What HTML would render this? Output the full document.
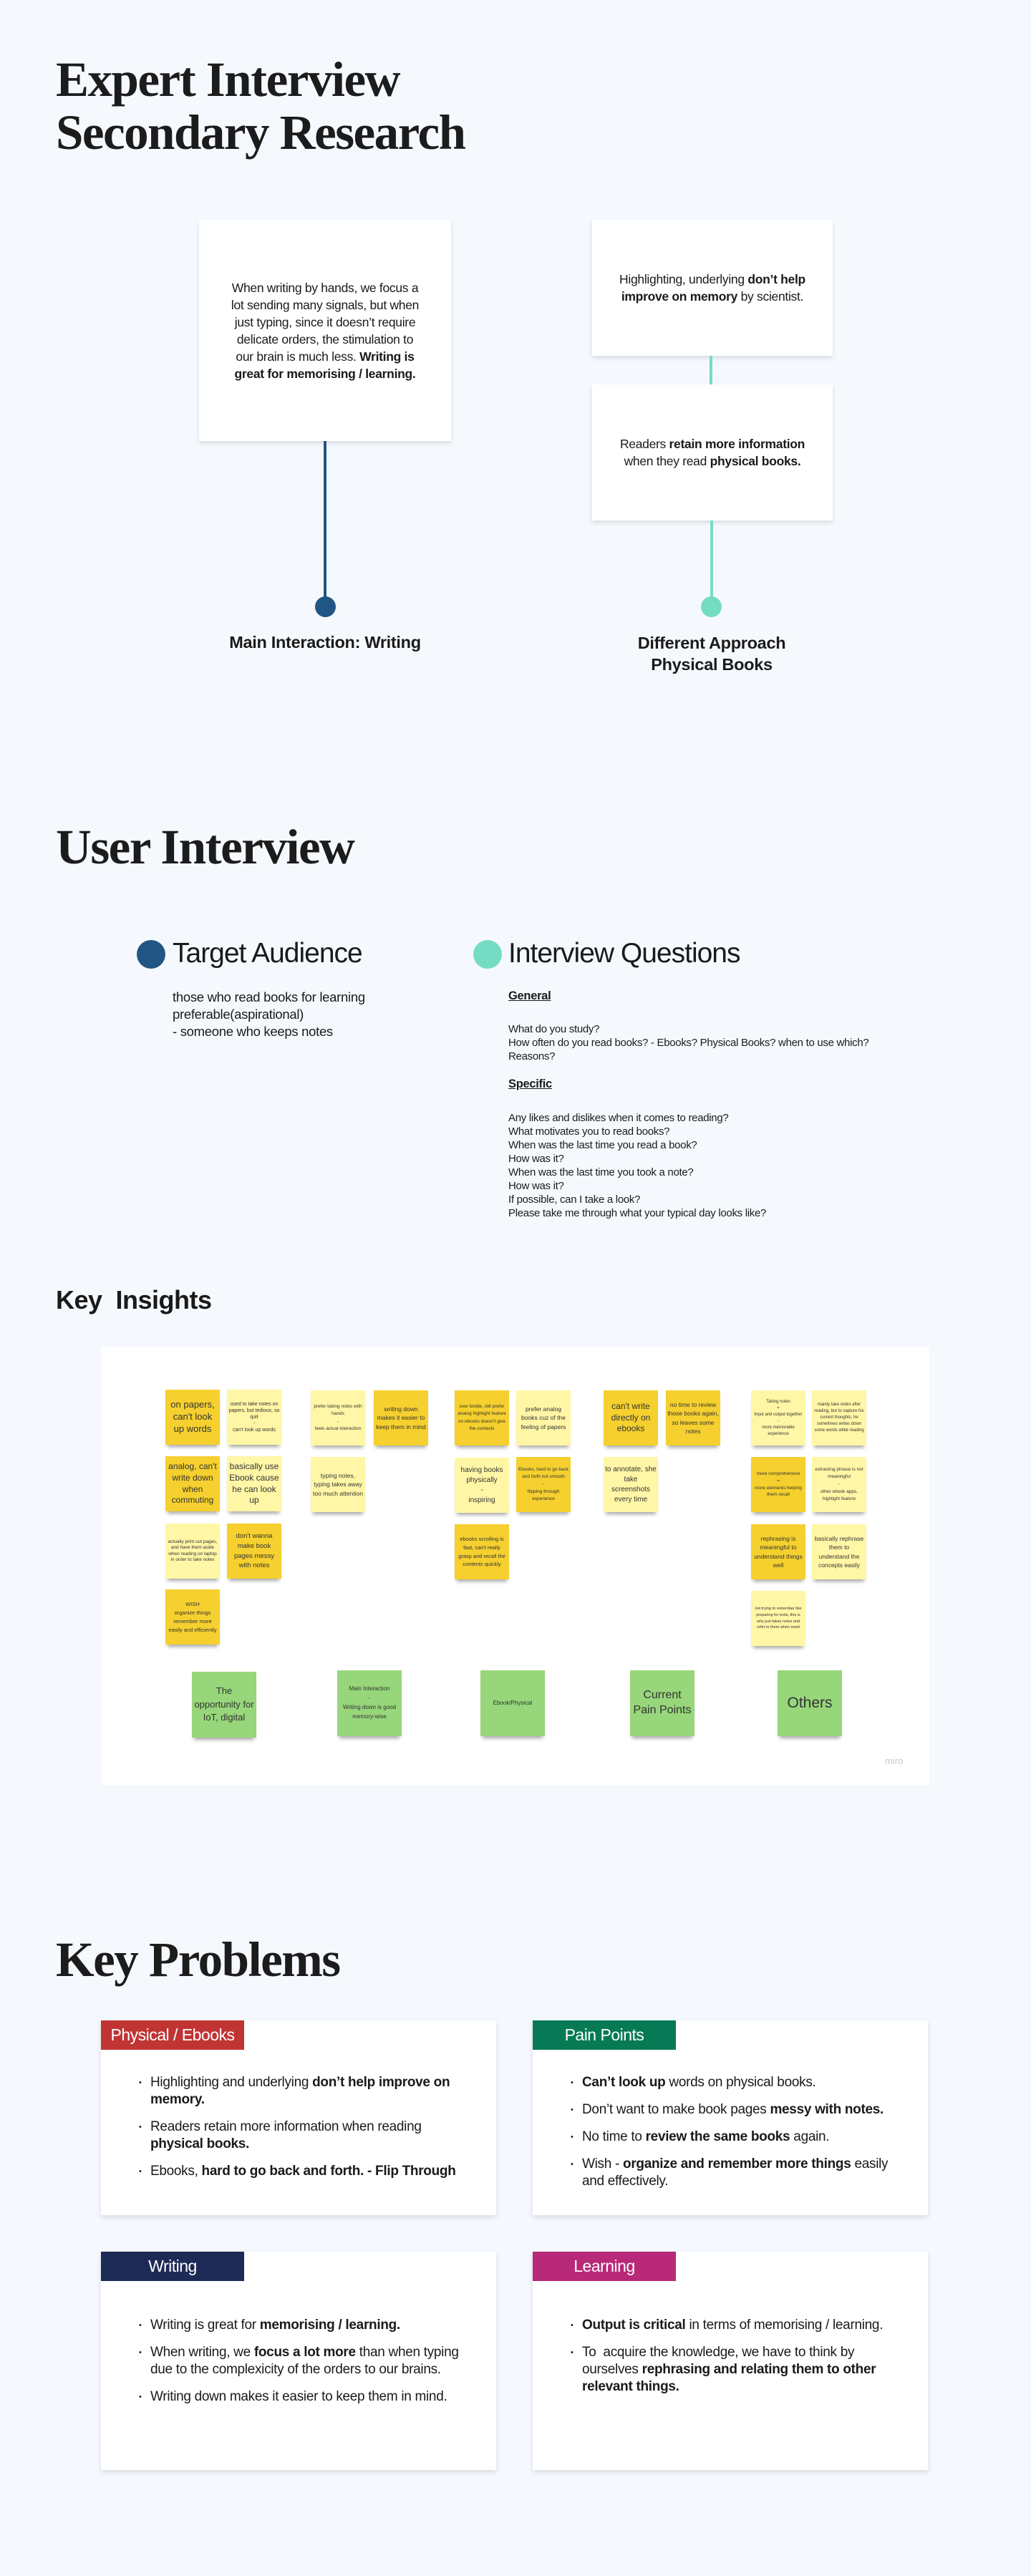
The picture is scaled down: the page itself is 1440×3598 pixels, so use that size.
<!DOCTYPE html>
<html><head><meta charset="utf-8">
<style>
*{margin:0;padding:0;box-sizing:border-box}
body{width:1440px;height:3598px;background:#f5f9fe;position:relative;font-family:"Liberation Sans",sans-serif;color:#1a1a1a;overflow:hidden}
.a{position:absolute}
.h1{font-family:"Liberation Serif",serif;font-weight:bold;font-size:69px;line-height:74px;letter-spacing:-1.5px;color:#1c1c1c;white-space:nowrap}
.card{background:#fff;box-shadow:0 3px 6px rgba(0,0,0,.12);display:flex;align-items:center;justify-content:center;text-align:center;font-size:17.5px;line-height:24px;letter-spacing:-0.3px;white-space:nowrap}
.dot{border-radius:50%}
.lbl{font-weight:bold;font-size:23.5px;line-height:30px;text-align:center;letter-spacing:-0.3px}
.st{position:absolute;width:76px;height:77px;display:flex;align-items:center;justify-content:center;text-align:center;color:#333;box-shadow:0 6px 5px -3px rgba(0,0,0,.35);padding:2px;line-height:1.3}
.D{background:#f5d02e}.L{background:#fff6a6}.G{background:#97d67a;width:90px;height:92px}
.kc{background:#fff;box-shadow:0 3px 7px rgba(0,0,0,.12)}
.tag{position:absolute;left:0;top:0;width:200px;height:41px;color:#fff;font-size:23px;line-height:41px;text-align:center;letter-spacing:-0.5px}
.kc ul{position:absolute;left:69px;top:0;list-style:none;font-size:19px;line-height:24px;letter-spacing:-0.3px;white-space:nowrap}
.kc li{position:relative;margin-bottom:14px}
.kc li:before{content:"•";position:absolute;left:-16px;font-size:11px}
</style></head><body>

<div class="a h1" style="left:78px;top:74px">Expert Interview<br>Secondary Research</div>

<div class="a card" style="left:278px;top:307px;width:352px;height:309px"><div>When writing by hands, we focus a<br>lot sending many signals, but when<br>just typing, since it doesn’t require<br>delicate orders, the stimulation to<br>our brain is much less. <b>Writing is</b><br><b>great for memorising / learning.</b></div></div>
<div class="a card" style="left:827px;top:307px;width:336px;height:190px"><div>Highlighting, underlying <b>don’t help<br>improve on memory</b> by scientist.</div></div>
<div class="a card" style="left:827px;top:537px;width:336px;height:190px"><div>Readers <b>retain more information</b><br>when they read <b>physical books.</b></div></div>
<div class="a" style="left:452px;top:616px;width:4px;height:231px;background:#215584"></div>
<div class="a" style="left:991px;top:497px;width:4px;height:40px;background:#74dcc2"></div>
<div class="a" style="left:992px;top:727px;width:4px;height:120px;background:#74dcc2"></div>
<div class="a dot" style="left:440px;top:833px;width:29px;height:29px;background:#215584"></div>
<div class="a dot" style="left:979px;top:833px;width:29px;height:29px;background:#74dcc2"></div>
<div class="a lbl" style="left:254px;top:882px;width:400px">Main Interaction: Writing</div>
<div class="a lbl" style="left:794px;top:883px;width:400px">Different Approach<br>Physical Books</div>

<div class="a h1" style="left:78px;top:1146px">User Interview</div>
<div class="a dot" style="left:191px;top:1313px;width:40px;height:40px;background:#215584"></div>
<div class="a" style="left:241px;top:1308px;font-size:39px;line-height:48px;letter-spacing:-1px">Target Audience</div>
<div class="a dot" style="left:661px;top:1313px;width:40px;height:40px;background:#74dcc2"></div>
<div class="a" style="left:710px;top:1308px;font-size:39px;line-height:48px;letter-spacing:-1px">Interview Questions</div>
<div class="a" style="left:241px;top:1381px;font-size:18.5px;line-height:24px;letter-spacing:-0.3px">those who read books for learning<br>preferable(aspirational)<br>- someone who keeps notes</div>
<div class="a" style="left:710px;top:1382px;font-size:16.5px;font-weight:bold;text-decoration:underline;letter-spacing:-0.3px">General</div>
<div class="a" style="left:710px;top:1428px;font-size:15px;line-height:19px;letter-spacing:-0.3px">What do you study?<br>How often do you read books? - Ebooks? Physical Books? when to use which?<br>Reasons?</div>
<div class="a" style="left:710px;top:1505px;font-size:16.5px;font-weight:bold;text-decoration:underline;letter-spacing:-0.3px">Specific</div>
<div class="a" style="left:710px;top:1552px;font-size:15px;line-height:19px;letter-spacing:-0.3px">Any likes and dislikes when it comes to reading?<br>What motivates you to read books?<br>When was the last time you read a book?<br>How was it?<br>When was the last time you took a note?<br>How was it?<br>If possible, can I take a look?<br>Please take me through what your typical day looks like?</div>

<div class="a" style="left:78px;top:1795px;font-size:36px;font-weight:bold;letter-spacing:-0.5px">Key&nbsp; Insights</div>

<div class="a" style="left:141px;top:1881px;width:1157px;height:612px;background:#fff"></div>
<div class="st D" style="left:231px;top:1941px;font-size:13px">on papers, can't look up words</div>
<div class="st D" style="left:231px;top:2034px;font-size:12px">analog, can't write down when commuting</div>
<div class="st L" style="left:231px;top:2128px;font-size:6.5px">actually print out pages, and have them aside when reading on laptop in order to take notes</div>
<div class="st D" style="left:231px;top:2220px;font-size:7.5px;line-height:1.6">WISH<br>organize things remember more easily and efficiently</div>
<div class="st L" style="left:317px;top:1941px;font-size:7px">used to take notes on papers, but tedious, so quit<br>-<br>can't look up words</div>
<div class="st L" style="left:317px;top:2034px;font-size:12px">basically use Ebook cause he can look up</div>
<div class="st D" style="left:317px;top:2128px;font-size:9.5px;line-height:1.45">don't wanna make book pages messy with notes</div>
<div class="st L" style="left:434px;top:1942px;font-size:6.5px;line-height:1.6">prefer taking notes with hands<br>-<br>feels actual interaction</div>
<div class="st L" style="left:434px;top:2035px;font-size:8.5px;line-height:1.45">typing notes, typing takes away too much attention</div>
<div class="st D" style="left:522px;top:1942px;font-size:8.5px;line-height:1.45">writing down makes it easier to keep them in mind</div>
<div class="st D" style="left:635px;top:1942px;font-size:6.5px;line-height:1.6">over kindle, still prefer analog highlight feature on ebooks doesn't give the contexts</div>
<div class="st L" style="left:635px;top:2036px;font-size:10px;line-height:1.4">having books physically<br>-<br>inspiring</div>
<div class="st D" style="left:635px;top:2129px;font-size:7.5px;line-height:1.55">ebooks scrolling is fast, can't really grasp and recall the contents quickly</div>
<div class="st L" style="left:721px;top:1942px;font-size:8.5px;line-height:1.45">prefer analog books cuz of the feeling of papers</div>
<div class="st D" style="left:721px;top:2035px;font-size:6.5px;line-height:1.6">Ebooks, hard to go back and forth not smooth<br>-<br>flipping through experience</div>
<div class="st D" style="left:843px;top:1942px;font-size:12px">can't write directly on ebooks</div>
<div class="st L" style="left:843px;top:2035px;font-size:10px;line-height:1.4">to annotate, she take screenshots every time</div>
<div class="st D" style="left:930px;top:1942px;font-size:8.5px;line-height:1.45">no time to review those books again, so leaves some notes</div>
<div class="st L" style="left:1049px;top:1942px;font-size:6px;line-height:1.5">Taking notes<br>=<br>Input and output together<br>-<br>more memorable experience</div>
<div class="st D" style="left:1049px;top:2035px;font-size:6.5px;line-height:1.5">more comprehensive<br>=<br>more elements helping them recall</div>
<div class="st D" style="left:1049px;top:2129px;font-size:8.5px;line-height:1.45">rephrasing is meaningful to understand things well</div>
<div class="st L" style="left:1049px;top:2222px;font-size:5.5px;line-height:1.6">not trying to remember like preparing for tests, this is why just takes notes and refer to them when need</div>
<div class="st L" style="left:1134px;top:1942px;font-size:6px;line-height:1.5">mainly take notes after reading, but to capture his current thoughts, he sometimes writes down some words while reading</div>
<div class="st L" style="left:1134px;top:2035px;font-size:6.5px;line-height:1.6">extracting phrase is not meaningful<br>-<br>other ebook apps, highlight feature</div>
<div class="st L" style="left:1134px;top:2129px;font-size:8.5px;line-height:1.45">basically rephrase them to understand the concepts easily</div>
<div class="st G" style="left:268px;top:2335px;font-size:13px;line-height:1.45">The opportunity for IoT, digital</div>
<div class="st G" style="left:471px;top:2333px;font-size:8px;line-height:1.6">Main Interaction<br>-<br>Writing down is good memory-wise</div>
<div class="st G" style="left:671px;top:2333px;font-size:8px">Ebook/Physical</div>
<div class="st G" style="left:880px;top:2333px;font-size:16px;line-height:1.3">Current Pain Points</div>
<div class="st G" style="left:1086px;top:2333px;font-size:21px">Others</div>
<div class="a" style="left:1236px;top:2452px;font-size:13px;color:#c4c8d0">miro</div>

<div class="a h1" style="left:78px;top:2700px">Key Problems</div>

<div class="a kc" style="left:141px;top:2822px;width:552px;height:272px">
<div class="tag" style="background:#c03434">Physical / Ebooks</div>
<ul style="top:75px"><li>Highlighting and underlying <b>don’t help improve on<br>memory.</b></li><li>Readers retain more information when reading<br><b>physical books.</b></li><li>Ebooks, <b>hard to go back and forth. - Flip Through</b></li></ul></div>
<div class="a kc" style="left:744px;top:2822px;width:552px;height:272px">
<div class="tag" style="background:#077a55">Pain Points</div>
<ul style="top:75px"><li><b>Can’t look up</b> words on physical books.</li><li>Don’t want to make book pages <b>messy with notes.</b></li><li>No time to <b>review the same books</b> again.</li><li>Wish - <b>organize and remember more things</b> easily<br>and effectively.</li></ul></div>
<div class="a kc" style="left:141px;top:3145px;width:552px;height:305px">
<div class="tag" style="background:#1e2a56">Writing</div>
<ul style="top:91px"><li>Writing is great for <b>memorising / learning.</b></li><li>When writing, we <b>focus a lot more</b> than when typing<br>due to the complexicity of the orders to our brains.</li><li>Writing down makes it easier to keep them in mind.</li></ul></div>
<div class="a kc" style="left:744px;top:3145px;width:552px;height:305px">
<div class="tag" style="background:#b8297a">Learning</div>
<ul style="top:91px"><li><b>Output is critical</b> in terms of memorising / learning.</li><li>To&nbsp; acquire the knowledge, we have to think by<br>ourselves <b>rephrasing and relating them to other<br>relevant things.</b></li></ul></div>

</body></html>
